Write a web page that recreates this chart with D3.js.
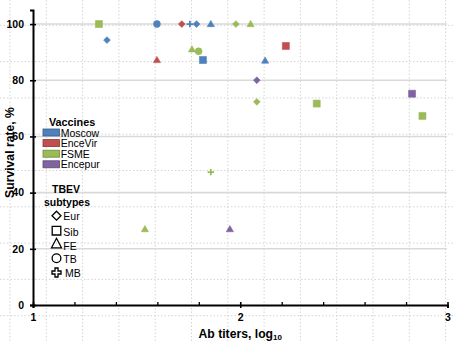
<!DOCTYPE html>
<html><head><meta charset="utf-8">
<script src="https://cdn.jsdelivr.net/npm/d3@7"></script>
<style>
html,body{margin:0;padding:0;background:#fff;}
svg{display:block;font-family:"Liberation Sans",Arial,sans-serif;}
</style></head>
<body><svg id="c" width="454" height="341"></svg>
<script>
// ---- data ----
const vaccines = ["Moscow", "EnceVir", "FSME", "Encepur"];
const subtypes = ["Eur", "Sib", "FE", "TB", "MB"];
const yTicks = [0, 20, 40, 60, 80, 100];
const xTicks = [1, 2, 3];
const xMinorTicks = [1.2, 1.4, 1.6, 1.8, 2.2, 2.4, 2.6, 2.8];
const pointVaccine = ["FSME","Moscow","Moscow","EnceVir","EnceVir","Moscow","Moscow","FSME","FSME","Moscow","Moscow","FSME","FSME","EnceVir","Moscow","Encepur","FSME","FSME","Encepur","FSME","FSME","FSME","Encepur"];
const pointSubtype = ["Sib","Eur","TB","FE","Eur","MB","Eur","FE","TB","Sib","FE","Eur","FE","Sib","FE","Eur","Eur","Sib","Sib","Sib","MB","FE","FE"];
const abTiter = [1.318,1.357,1.598,1.598,1.718,1.757,1.789,1.767,1.799,1.82,1.858,1.979,2.05,2.22,2.12,2.08,2.08,2.369,2.829,2.879,1.858,1.54,1.95];
const survival = [100,94.3,100,87.2,100,100,100,91,90.3,87.2,100,100,100,92.2,87,80,72.3,71.7,75.2,67.3,47.3,27,27];

// ---- styles ----
const fillColor = {Moscow:"#4F81BD", EnceVir:"#C0504D", FSME:"#9BBB59", Encepur:"#8064A2"};
const edgeColor = {Moscow:"#385D8A", EnceVir:"#8C3836", FSME:"#71893F", Encepur:"#5C4776"};

const svg = d3.select("#c");
const x = d3.scaleLinear().domain([1, 3]).range([33, 447.5]);
const y = d3.scaleLinear().domain([0, 105]).range([305, 10]);

// background graph-paper dotted grid
const bg = svg.append("g");
d3.range(0, 13).forEach(k => {
  bg.append("line").attr("x1", 10 + 36.3*k).attr("x2", 10 + 36.3*k).attr("y1", 0).attr("y2", 341)
    .attr("stroke", "#d4d4d4").attr("stroke-width", 1).attr("stroke-dasharray", "1.5,2");
});
d3.range(-1, 9).forEach(k => {
  bg.append("line").attr("y1", 25.3 + 36.3*k).attr("y2", 25.3 + 36.3*k).attr("x1", 0).attr("x2", 454)
    .attr("stroke", "#d4d4d4").attr("stroke-width", 1).attr("stroke-dasharray", "1.5,2");
});

// major horizontal gridlines
svg.append("g").selectAll("line").data(yTicks.filter(d => d > 0)).join("line")
  .attr("x1", 36).attr("x2", 447).attr("y1", d => y(d)).attr("y2", d => y(d))
  .attr("stroke", "#d9d9d9").attr("stroke-width", 1.6);

// axes
const yAxis = svg.append("g").attr("transform", "translate(33,0)")
  .call(d3.axisLeft(y).tickValues(yTicks).tickSizeOuter(0).tickSize(3).tickPadding(6));
yAxis.select(".domain").attr("stroke", "#000").attr("stroke-width", 2);
yAxis.selectAll(".tick line").attr("x1", 3).attr("x2", -3).attr("stroke-width", 1.6);
yAxis.selectAll(".tick text").attr("font-size", 10.5).attr("font-weight", "bold").attr("fill", "#000")
  .attr("font-family", "Liberation Sans, Arial, sans-serif");

const xMinor = svg.append("g").attr("transform", "translate(0,305)")
  .call(d3.axisBottom(x).tickValues(xMinorTicks).tickSize(-3).tickFormat(""));
xMinor.select(".domain").remove();
xMinor.selectAll(".tick line").attr("stroke-width", 1.3);

const xAxis = svg.append("g").attr("transform", "translate(0,305)")
  .call(d3.axisBottom(x).tickValues(xTicks).tickSizeOuter(0).tickSize(3).tickPadding(6).tickFormat(d3.format("d")));
xAxis.select(".domain").attr("stroke", "#000").attr("stroke-width", 2);
xAxis.selectAll(".tick line").attr("y1", -3).attr("y2", 3).attr("stroke-width", 1.6);
xAxis.selectAll(".tick text").attr("font-size", 10.5).attr("font-weight", "bold").attr("fill", "#000")
  .attr("font-family", "Liberation Sans, Arial, sans-serif");

// axis titles
svg.append("text").attr("transform", "translate(13.5,152.5) rotate(-90)")
  .attr("text-anchor", "middle").attr("font-size", 12.2).attr("font-weight", "bold").text("Survival rate, %");
const xt = svg.append("text").attr("x", x(2)).attr("y", 337.5).attr("text-anchor", "middle")
  .attr("font-size", 12.2).attr("font-weight", "bold");
xt.append("tspan").text("Ab titers, log");
xt.append("tspan").attr("font-size", 8).attr("dy", 2.5).text("10");

// marker shapes
function markerPath(sub) {
  switch (sub) {
    case "Eur": return "M0,-3.4L3.4,0L0,3.4L-3.4,0Z";
    case "Sib": return "M-3.5,-3.5H3.5V3.5H-3.5Z";
    case "FE":  return "M-3.6,2.6L3.6,2.6L0,-3.6Z";
    case "TB":  return d3.symbol(d3.symbolCircle, 38)();
    case "MB":  return "M-3.2,0H3.2M0,-3.2V3.2";
  }
}

const pts = abTiter.map((v, i) => ({x: v, y: survival[i], vac: pointVaccine[i], sub: pointSubtype[i]}));
svg.append("g").selectAll("path").data(pts).join("path")
  .attr("transform", d => `translate(${x(d.x)},${y(d.y)})`)
  .attr("d", d => markerPath(d.sub))
  .attr("fill", d => d.sub === "MB" ? "none" : fillColor[d.vac])
  .attr("stroke", d => fillColor[d.vac])
  .attr("stroke-width", d => d.sub === "MB" ? 1.8 : 0.6);

// legend: vaccines
const lg = svg.append("g");
lg.append("text").attr("x", 49).attr("y", 125.5).attr("font-size", 10.8).attr("font-weight", "bold").text("Vaccines");
vaccines.forEach((v, i) => {
  const yy = 129 + i * 10.6;
  lg.append("rect").attr("x", 43).attr("y", yy).attr("width", 16.5).attr("height", 7)
    .attr("fill", fillColor[v]).attr("stroke", edgeColor[v]).attr("stroke-width", 0.8);
  lg.append("text").attr("x", 60.7).attr("y", yy + 7.5).attr("font-size", 10.5).text(v);
});

// legend: subtypes
lg.append("text").attr("x", 66).attr("y", 192.5).attr("text-anchor", "middle").attr("font-size", 10.5).attr("font-weight", "bold").text("TBEV");
lg.append("text").attr("x", 67).attr("y", 205.5).attr("text-anchor", "middle").attr("font-size", 10.5).attr("font-weight", "bold").text("subtypes");
function legendShape(sub) {
  switch (sub) {
    case "Eur": return "M0,-4.5L4.5,0L0,4.5L-4.5,0Z";
    case "Sib": return "M-4.3,-4.3H4.3V4.3H-4.3Z";
    case "FE":  return "M-5,4.5L5,4.5L0,-5Z";
    case "TB":  return d3.symbol(d3.symbolCircle, 60)();
    case "MB":  return d3.symbol(d3.symbolCross, 45)();
  }
}
const legY = [215.7, 230.7, 243.3, 258.3, 272.5];
const legTextY = [219.5, 236, 250, 262.5, 277];
const legTextX = [63.3, 63.3, 63.3, 63.3, 65];
subtypes.forEach((s, i) => {
  lg.append("path").attr("transform", `translate(56.5,${legY[i]})`).attr("d", legendShape(s))
    .attr("fill", "none").attr("stroke", "#000").attr("stroke-width", 1.3);
  lg.append("text").attr("x", legTextX[i]).attr("y", legTextY[i]).attr("font-size", 10.5).text(s);
});
</script></body></html>
